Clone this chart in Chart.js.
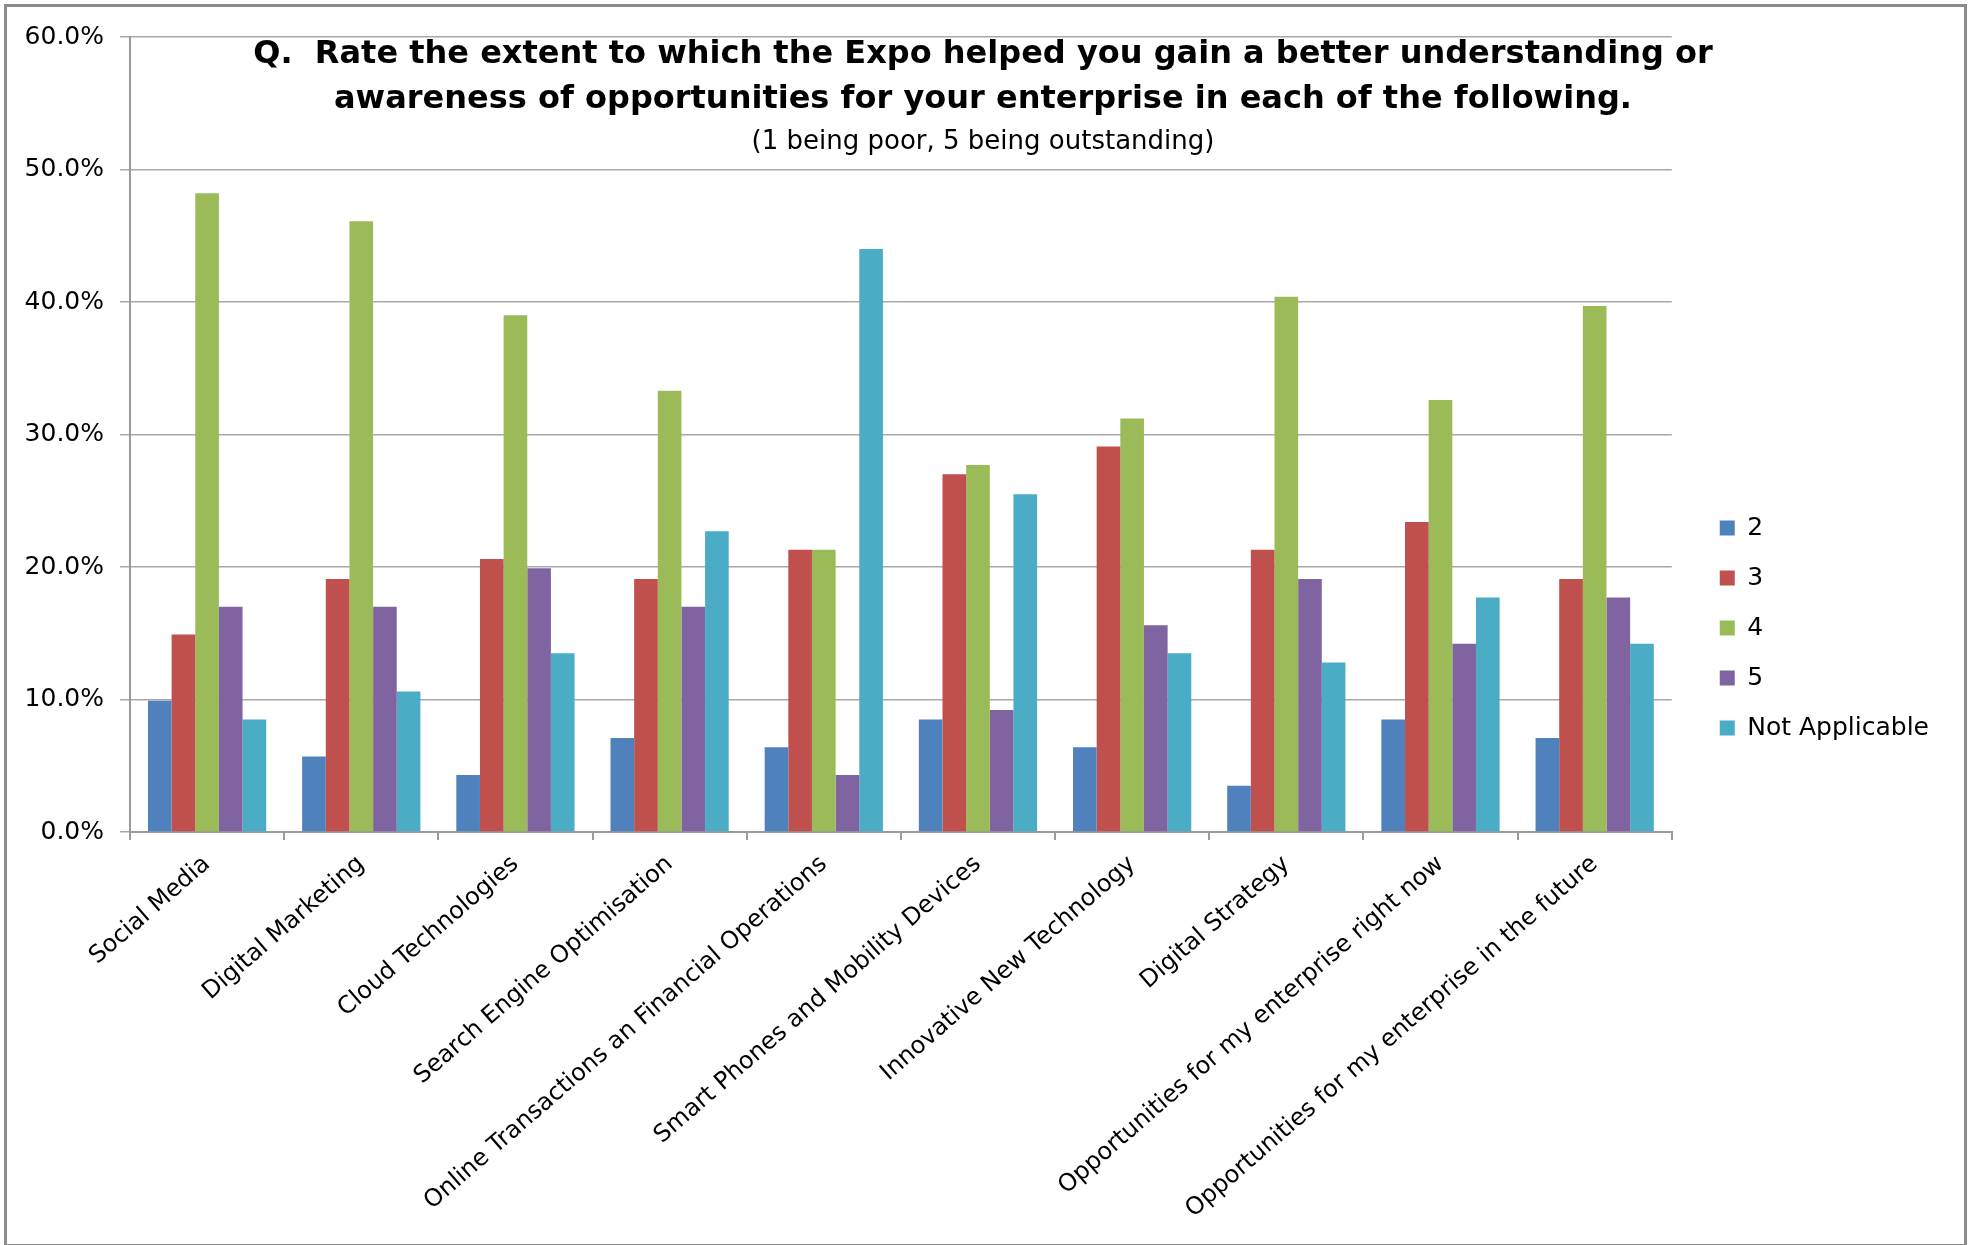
<!DOCTYPE html>
<html>
<head>
<meta charset="utf-8">
<title>Expo survey</title>
<script src="https://cdn.jsdelivr.net/npm/chart.js@4.4.1/dist/chart.umd.min.js"></script>
<style>
  html, body { margin: 0; padding: 0; background: #fff; }
  #wrap { position: relative; width: 1976px; height: 1245px; overflow: hidden; }
  #grafico { position: absolute; left: 0; top: 0; }
  #moldura {
    position: absolute; left: 4px; top: 4px; width: 1963px; height: 1243px;
    box-sizing: border-box; border: 3px solid #8c8c8c; pointer-events: none;
  }
</style>
</head>
<body>
<div id="wrap">
  <canvas id="grafico" width="1976" height="1245"></canvas>
  <div id="moldura"></div>
</div>
<script>
// categorias e respostas (% dos inquiridos)
const categorias = [
  'Social Media',
  'Digital Marketing',
  'Cloud Technologies',
  'Search Engine Optimisation',
  'Online Transactions an Financial Operations',
  'Smart Phones and Mobility Devices',
  'Innovative New Technology',
  'Digital Strategy',
  'Opportunities for my enterprise right now',
  'Opportunities for my enterprise in the future'
];
const nota2 = [9.9, 5.7, 4.3, 7.1, 6.4, 8.5, 6.4, 3.5, 8.5, 7.1];
const nota3 = [14.9, 19.1, 20.6, 19.1, 21.3, 27.0, 29.1, 21.3, 23.4, 19.1];
const nota4 = [48.2, 46.1, 39.0, 33.3, 21.3, 27.7, 31.2, 40.4, 32.6, 39.7];
const nota5 = [17.0, 17.0, 19.9, 17.0, 4.3, 9.2, 15.6, 19.1, 14.2, 17.7];
const naoAplicavel = [8.5, 10.6, 13.5, 22.7, 44.0, 25.5, 13.5, 12.8, 17.7, 14.2];
const ticksY = [0, 10, 20, 30, 40, 50, 60];

const tituloLinhas = [
  'Q.  Rate the extent to which the Expo helped you gain a better understanding or',
  'awareness of opportunities for your enterprise in each of the following.'
];
const subtitulo = '(1 being poor, 5 being outstanding)';

const FONTE = "'DejaVu Sans', Verdana, sans-serif";

// titulo desenhado por cima da area do grafico
const tituloPlugin = {
  id: 'tituloInterno',
  afterDraw(chart) {
    const ctx = chart.ctx;
    ctx.save();
    ctx.fillStyle = '#000';
    ctx.textAlign = 'center';
    ctx.textBaseline = 'middle';
    ctx.font = 'bold 32px ' + FONTE;
    ctx.fillText(tituloLinhas[0], 983, 55);
    ctx.fillText(tituloLinhas[1], 983, 100);
    ctx.font = '26px ' + FONTE;
    ctx.fillText(subtitulo, 983, 142);
    ctx.restore();
  }
};

// afasta a legenda do eixo
const folgaLegenda = {
  id: 'folgaLegenda',
  afterLayout(chart) {
    if (chart.legend) {
      chart.legend.left += 23;
      chart.legend.right += 23;
    }
  }
};

const cores = ['#4F81BD', '#C0504D', '#9BBB59', '#8064A2', '#4BACC6'];
const series = [
  { label: '2', data: nota2 },
  { label: '3', data: nota3 },
  { label: '4', data: nota4 },
  { label: '5', data: nota5 },
  { label: 'Not Applicable', data: naoAplicavel }
];

new Chart(document.getElementById('grafico'), {
  type: 'bar',
  data: {
    labels: categorias,
    datasets: series.map((s, i) => ({
      label: s.label,
      data: s.data,
      backgroundColor: cores[i],
      borderWidth: 0,
      categoryPercentage: 0.767,
      barPercentage: 1.0
    }))
  },
  options: {
    responsive: false,
    animation: false,
    devicePixelRatio: 1,
    layout: { padding: { top: 37, left: 0, right: 60, bottom: 26 } },
    plugins: {
      legend: {
        position: 'right',
        labels: {
          boxWidth: 15,
          boxHeight: 15,
          padding: 25,
          color: '#000',
          font: { family: FONTE, size: 25 }
        }
      },
      tooltip: { enabled: false }
    },
    scales: {
      x: {
        grid: {
          offset: true,
          drawOnChartArea: false,
          tickLength: 8,
          color: '#9a9a9a',
          lineWidth: 2
        },
        border: { color: '#9a9a9a', width: 2 },
        ticks: {
          autoSkip: false,
          minRotation: 41,
          maxRotation: 41,
          padding: 10,
          color: '#000',
          font: { family: FONTE, size: 24 }
        },
        afterFit(escala) { escala.height = 387; }
      },
      y: {
        min: ticksY[0],
        max: ticksY[ticksY.length - 1],
        afterBuildTicks(escala) { escala.ticks = ticksY.map(v => ({ value: v })); },
        grid: { color: '#a8a8a8', lineWidth: 1.5, tickLength: 10 },
        border: { color: '#9a9a9a', width: 2 },
        ticks: {
          padding: 16,
          color: '#000',
          font: { family: FONTE, size: 25 },
          callback: v => v.toFixed(1) + '%'
        },
        afterFit(escala) { escala.width = 130; }
      }
    }
  },
  plugins: [tituloPlugin, folgaLegenda]
});
</script>
</body>
</html>
